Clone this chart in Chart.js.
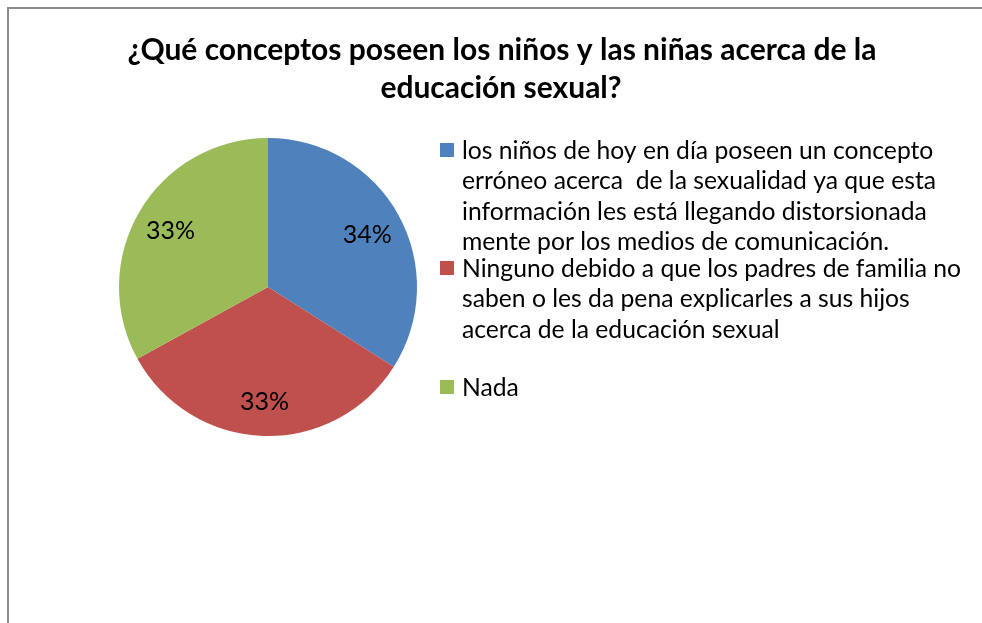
<!DOCTYPE html>
<html>
<head>
<meta charset="utf-8">
<script src="https://cdn.jsdelivr.net/npm/chart.js@4/dist/chart.umd.min.js"></script>
<style>
    html, body { margin: 0; padding: 0; background: #fff; overflow: hidden; width: 982px; height: 623px; }
    #wrap { position: absolute; left: 0; top: 0; width: 982px; height: 623px; }
</style>
</head>
<body>
<div id="wrap"><canvas id="chart"></canvas></div>
<script>
// data
const titleLines = ["¿Qué conceptos poseen los niños y las niñas acerca de la", "educación sexual?"];
const categories = [
    ["los niños de hoy en día poseen un concepto",
     "erróneo acerca  de la sexualidad ya que esta",
     "información les está llegando distorsionada",
     "mente por los medios de comunicación."],
    ["Ninguno debido a que los padres de familia no",
     "saben o les da pena explicarles a sus hijos",
     "acerca de la educación sexual"],
    ["Nada"]
];
const values = [34, 33, 33];
const percentLabels = ["34%", "33%", "33%"];
const colors = ["#4f81bd", "#c0504d", "#9bbb59"];

const FONT = "Lato, 'Open Sans', sans-serif";

// frame lines (only left and top are visible in the cropped original)
const frame = {
    id: "frame",
    beforeDraw(chart) {
        const c = chart.ctx;
        c.save();
        c.fillStyle = "#8a8a8a";
        c.fillRect(7, 7, 2, chart.height - 7);
        c.fillRect(7, 7, chart.width - 7, 2);
        c.restore();
    }
};

// title, slice labels and wrapped legend drawn by hand
const extras = {
    id: "extras",
    afterDraw(chart) {
        const c = chart.ctx;
        c.save();
        c.fillStyle = "#000";

        // title
        c.font = "bold 30px " + FONT;
        c.textAlign = "center";
        c.textBaseline = "alphabetic";
        c.fillText(titleLines[0], 502, 60);
        c.fillText(titleLines[1], 501, 98);

        // percent labels inside slices
        const meta = chart.getDatasetMeta(0);
        c.font = "25px " + FONT;
        c.textBaseline = "middle";
        meta.data.forEach((arc, i) => {
            const mid = (arc.startAngle + arc.endAngle) / 2;
            const r = arc.outerRadius * 0.76;
            c.fillText(percentLabels[i], arc.x + Math.cos(mid) * r, arc.y + Math.sin(mid) * r + 2);
        });

        // legend
        c.font = "24.7px " + FONT;
        c.textAlign = "left";
        const lineH = 30.5;
        const starts = [151, 269, 388];
        categories.forEach((lines, i) => {
            const y = starts[i];
            c.fillStyle = colors[i];
            c.fillRect(440, y - 8, 14, 14);
            c.fillStyle = "#000";
            lines.forEach((line, j) => {
                c.fillText(line, 462, y + j * lineH);
            });
        });
        c.restore();
    }
};

const ctx = document.getElementById("chart");

const chart = new Chart(ctx, {
    type: "pie",
    data: {
        labels: categories,
        datasets: [{
            data: values,
            backgroundColor: colors,
            borderWidth: 0,
            hoverOffset: 0
        }]
    },
    options: {
        responsive: true,
        maintainAspectRatio: false,
        animation: false,
        layout: {
            padding: { left: 119, right: 565, top: 138, bottom: 187 }
        },
        plugins: {
            legend: { display: false },
            title: { display: false },
            tooltip: { enabled: false }
        }
    },
    plugins: [frame, extras]
});
</script>
</body>
</html>
